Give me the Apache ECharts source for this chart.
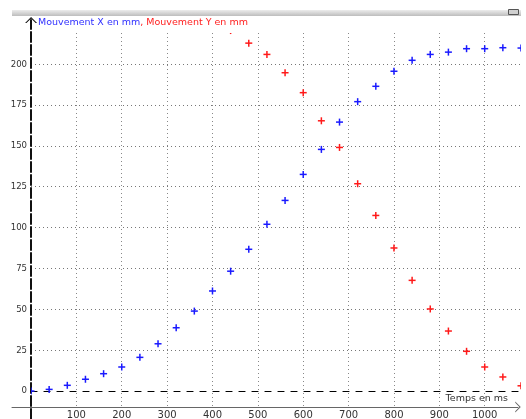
<!DOCTYPE html>
<html>
<head>
<meta charset="utf-8">
<script src="https://cdn.jsdelivr.net/npm/echarts@6/dist/echarts.min.js"></script>
<style>
  html, body { margin: 0; padding: 0; background: #fff; }
  #chart { width: 526px; height: 419px; }
</style>
</head>
<body>
<div id="chart"></div>
<script>
// temps en ms (un point toutes les 40 ms)
const timesX = [0, 40, 80, 120, 160, 200, 240, 280, 320, 360, 400, 440, 480, 520,
  560, 600, 640, 680, 720, 760, 800, 840, 880, 920, 960, 1000, 1040, 1080];
const mouvementX = [0, 1.0, 3.5, 7.2, 10.6, 14.7, 20.6, 28.9, 38.7, 48.9, 61.2, 73.3, 86.7, 102,
  116.6, 132.5, 147.8, 164.5, 177, 186.4, 195.6, 202.3, 205.9, 207.3, 209.4, 209.4, 210, 209.8];

// avant 440 ms les valeurs Y sortent du graphique
const timesY = [440, 480, 520, 560, 600, 640, 680, 720, 760, 800, 840, 880, 920, 960, 1000, 1040, 1080];
const mouvementY = [220.5, 212.8, 205.9, 194.7, 182.5, 165.3, 149, 126.8, 107.4, 87.5,
  67.7, 50.2, 36.7, 24.3, 14.7, 8.6, 3.2];

const yTicks = [0, 25, 50, 75, 100, 125, 150, 175, 200];
const xTicks = [100, 200, 300, 400, 500, 600, 700, 800, 900, 1000];

const BLUE = "#1a1aff";
const RED = "#ff1a1a";
const FONT = "DejaVu Sans";

const toPairs = (xs, ys) => xs.map((t, i) => [t, ys[i]]);

// petite croix "+" pour chaque mesure
const plus = (color) => (params, api) => {
  const p = api.coord([api.value(0), api.value(1)]);
  return {
    type: "group",
    children: [
      { type: "rect", shape: { x: p[0] - 3.5, y: p[1] - 0.75, width: 7, height: 1.5 }, style: { fill: color } },
      { type: "rect", shape: { x: p[0] - 0.75, y: p[1] - 3.5, width: 1.5, height: 7 }, style: { fill: color } },
    ],
  };
};

const chevron = "path://M0,6 L6,0 L12,6 L10.6,6 L6,1.5 L1.4,6 Z";
const dotted = [1, 3];

const myChart = echarts.init(document.getElementById("chart"));
const option = {
  animation: false,
  title: {
    left: 38,
    top: 18,
    padding: 0,
    text: "{b|Mouvement X en mm}{r|, Mouvement Y en mm}",
    textStyle: {
      fontWeight: "normal",
      rich: {
        b: { color: "#3030ff", fontSize: 9.5, fontFamily: FONT, fontWeight: "normal" },
        r: { color: "#ff2020", fontSize: 9.5, fontFamily: FONT, fontWeight: "normal" },
      },
    },
  },
  graphic: [
    {
      type: "rect",
      left: 12,
      top: 10,
      shape: { width: 509, height: 6 },
      style: {
        fill: new echarts.graphic.LinearGradient(0, 0, 0, 1, [
          { offset: 0, color: "#ececec" },
          { offset: 1, color: "#bdbdbd" },
        ]),
      },
      z: 1,
    },
    {
      type: "rect",
      left: 508,
      top: 9,
      shape: { width: 10, height: 5 },
      style: { fill: "#d0d0d0", stroke: "#555", lineWidth: 1 },
      z: 2,
    },
  ],
  grid: [
    // données
    { left: 31, right: 5, top: 33, height: 398.9, outerBoundsMode: "none", containLabel: false },
    // quadrillage vertical + graduations temps
    { left: 31, right: 5, top: 33, bottom: 12, outerBoundsMode: "none", containLabel: false },
    // axes flèchés
    { left: 12, right: 8, top: 20, bottom: 0, outerBoundsMode: "none", containLabel: false },
  ],
  xAxis: [
    {
      gridIndex: 0,
      type: "value",
      min: 0,
      max: 1080,
      interval: 100,
      axisLine: { show: true, onZero: true, lineStyle: { color: "#000", width: 1.2, type: [6, 7] } },
      axisTick: { show: false },
      axisLabel: { show: false },
      splitLine: { show: false },
    },
    {
      gridIndex: 1,
      type: "value",
      min: 0,
      max: 1080,
      interval: 100,
      name: "Temps en ms",
      nameLocation: "end",
      nameGap: -13,
      nameTextStyle: {
        align: "right",
        verticalAlign: "bottom",
        padding: [0, 0, 3, 0],
        color: "#333",
        fontSize: 9.5,
        fontFamily: FONT,
      },
      axisLine: { show: false, onZero: false },
      axisTick: { show: false },
      axisLabel: {
        margin: 3,
        color: "#333",
        fontSize: 10,
        fontFamily: FONT,
        showMinLabel: false,
        showMaxLabel: false,
        formatter: (v) => (xTicks.includes(v) ? String(v) : ""),
      },
      splitLine: {
        show: true,
        showMinLine: false,
        showMaxLine: false,
        lineStyle: { color: "#888", width: 1, type: dotted },
      },
    },
    {
      gridIndex: 2,
      type: "value",
      min: -42,
      max: 1073,
      offset: -12,
      axisLine: {
        show: true,
        onZero: false,
        symbol: ["none", chevron],
        symbolSize: [11, 6],
        lineStyle: { color: "#666", width: 1 },
      },
      axisTick: { show: false },
      axisLabel: { show: false },
      splitLine: { show: false },
    },
  ],
  yAxis: [
    {
      gridIndex: 0,
      type: "value",
      min: -25,
      max: 219,
      interval: 25,
      axisLine: { show: false },
      axisTick: { show: false },
      axisLabel: {
        margin: 4,
        color: "#333",
        fontSize: 9.5,
        fontFamily: "DejaVu Sans Condensed",
        showMaxLabel: false,
        formatter: (v) => (yTicks.includes(v) ? String(v) : ""),
      },
      splitLine: {
        show: true,
        showMaxLine: false,
        lineStyle: {
          // la ligne du zéro est déjà tracée en tirets
          color: ["#777", "rgba(0,0,0,0)", "#777", "#777", "#777", "#777", "#777", "#777", "#777", "#777", "#777", "#777"],
          width: 1,
          type: dotted,
        },
      },
    },
    { gridIndex: 1, type: "value", min: 0, max: 1, show: false },
    {
      gridIndex: 2,
      type: "value",
      min: 0,
      max: 1,
      axisLine: {
        show: true,
        onZero: true,
        symbol: ["none", chevron],
        symbolSize: [12, 6],
        lineStyle: { color: "#111", width: 2, type: [10, 3] },
      },
      axisTick: { show: false },
      axisLabel: { show: false },
      splitLine: { show: false },
    },
  ],
  series: [
    {
      name: "Mouvement X en mm",
      type: "custom",
      xAxisIndex: 0,
      yAxisIndex: 0,
      clip: true,
      z: 10,
      renderItem: plus(BLUE),
      encode: { x: 0, y: 1 },
      data: toPairs(timesX, mouvementX),
    },
    {
      name: "Mouvement Y en mm",
      type: "custom",
      xAxisIndex: 0,
      yAxisIndex: 0,
      clip: true,
      z: 10,
      renderItem: plus(RED),
      encode: { x: 0, y: 1 },
      data: toPairs(timesY, mouvementY),
    },
  ],
};

option && myChart.setOption(option);
</script>
</body>
</html>
